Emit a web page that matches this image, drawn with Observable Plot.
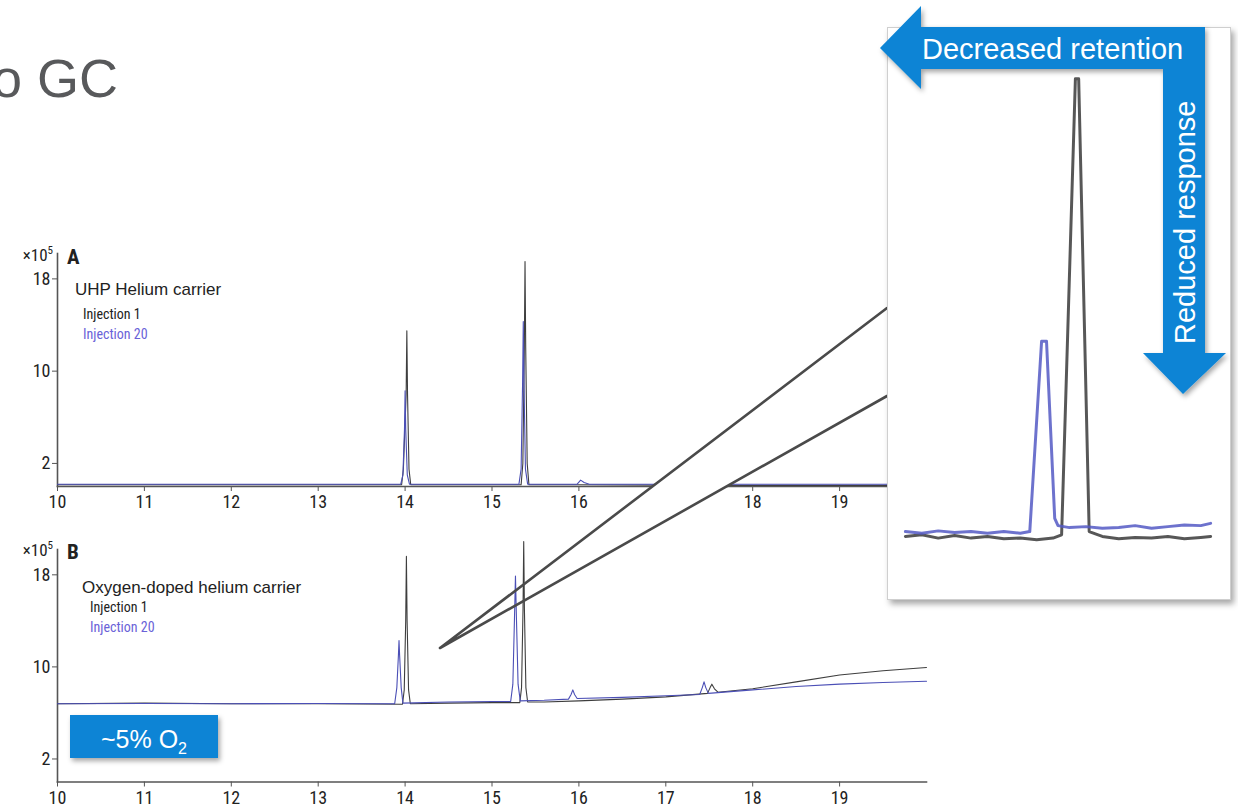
<!DOCTYPE html>
<html><head><meta charset="utf-8">
<script src="https://cdn.jsdelivr.net/npm/d3@7"></script>
<script src="https://cdn.jsdelivr.net/npm/@observablehq/plot@0.6"></script>
<style>
html,body{margin:0;padding:0;background:#fff;}
#stage{position:relative;width:1238px;height:810px;overflow:hidden;background:#fff;}
.layer{position:absolute;left:0;top:0;pointer-events:none;}
#inset{position:absolute;left:887px;top:27px;width:344px;height:573px;background:#fff;border:1px solid #cfcfcf;box-shadow:3px 4px 6px rgba(0,0,0,0.35);box-sizing:border-box;overflow:hidden;}
</style></head><body><div id="stage"></div>
<script>
// ---------- data ----------
const xTicks = [10, 11, 12, 13, 14, 15, 16, 17, 18, 19];
const yTicks = [2, 10, 18];
const panelLetters = ["A", "B"];
const carrierLabels = ["UHP Helium carrier", "Oxygen-doped helium carrier"];
const injectionLabels = ["Injection 1", "Injection 20"];
const pageTitle = "o GC";
const o2Label = "~5% O";
const o2Sub = "2";
const arrowLabels = ["Decreased retention", "Reduced response"];

// Panel A (UHP helium), retention time (min) and signal (x10^5)
const aInj1Time = [10, 12, 13.96, 13.98, 14.012, 14.02, 14.028, 14.045, 14.065, 15.0, 15.335, 15.355, 15.372, 15.38, 15.388, 15.405, 15.425, 16.0, 17, 18, 19, 20];
const aInj1Signal = [0.15, 0.15, 0.15, 1.5, 8, 13.5, 8, 1.5, 0.15, 0.15, 0.15, 2, 12, 19.5, 12, 2, 0.15, 0.15, 0.12, 0.1, 0.1, 0.1];
const aInj20Time = [10, 12, 13.2, 13.95, 13.975, 13.993, 14.0, 14.007, 14.025, 14.05, 14.3, 15.0, 15.31, 15.335, 15.352, 15.36, 15.368, 15.385, 15.41, 15.98, 16.02, 16.06, 16.12, 17, 18, 19, 20];
const aInj20Signal = [0.2, 0.2, 0.2, 0.2, 1, 5, 8.3, 5, 1, 0.2, 0.2, 0.2, 0.2, 1.5, 9, 14.3, 9, 1.5, 0.2, 0.2, 0.55, 0.35, 0.2, 0.2, 0.2, 0.2, 0.2];

// Panel B (oxygen-doped helium)
const bInj1Time = [10, 11, 12, 13, 13.97, 13.99, 14.007, 14.015, 14.023, 14.04, 14.06, 14.5, 15, 15.32, 15.34, 15.357, 15.365, 15.373, 15.39, 15.41, 15.6, 16, 16.5, 17, 17.48, 17.51, 17.53, 17.56, 17.6, 18, 18.5, 19, 19.5, 20];
const bInj1Signal = [6.8, 6.85, 6.8, 6.8, 6.75, 8, 14, 19.6, 14, 8, 6.8, 6.85, 6.9, 6.9, 8.2, 15, 20.9, 15, 8.2, 6.95, 6.95, 7.05, 7.2, 7.4, 7.7, 8.2, 8.5, 8.1, 7.8, 8.1, 8.7, 9.3, 9.66, 9.95];
const bInj20Time = [10, 11, 12, 13, 13.88, 13.905, 13.923, 13.93, 13.937, 13.955, 13.975, 14.5, 15, 15.215, 15.24, 15.258, 15.27, 15.282, 15.3, 15.325, 15.6, 15.88, 15.91, 15.93, 15.95, 15.98, 16.5, 17, 17.39, 17.42, 17.44, 17.46, 17.49, 18, 18.5, 19, 19.5, 20];
const bInj20Signal = [6.8, 6.82, 6.8, 6.82, 6.8, 8.2, 11, 12.3, 11, 8.2, 6.85, 6.95, 7.0, 7.0, 8.5, 14, 17.9, 14, 8.5, 7.05, 7.1, 7.2, 7.6, 8.0, 7.6, 7.25, 7.35, 7.5, 7.6, 8.2, 8.7, 8.2, 7.7, 8.0, 8.3, 8.5, 8.65, 8.75];

// Inset (zoom on the second peak pair of panel B)
const insetInj1Time = [14.85, 14.9, 14.95, 15.0, 15.05, 15.1, 15.15, 15.2, 15.25, 15.3, 15.326, 15.368, 15.378, 15.41, 15.45, 15.5, 15.55, 15.6, 15.65, 15.7, 15.75, 15.78];
const insetInj1Signal = [6.85, 6.9, 6.8, 6.88, 6.8, 6.85, 6.78, 6.8, 6.75, 6.8, 6.9, 20.8, 20.8, 7.0, 6.85, 6.78, 6.82, 6.8, 6.85, 6.78, 6.82, 6.85];
const insetInj20Time = [14.85, 14.9, 14.95, 15.0, 15.05, 15.1, 15.15, 15.2, 15.229, 15.265, 15.28, 15.305, 15.315, 15.35, 15.4, 15.45, 15.5, 15.55, 15.6, 15.65, 15.7, 15.75, 15.78];
const insetInj20Signal = [7.0, 6.95, 7.02, 6.97, 7.0, 6.95, 7.0, 6.95, 7.0, 12.8, 12.8, 7.4, 7.18, 7.12, 7.15, 7.1, 7.12, 7.18, 7.1, 7.15, 7.2, 7.18, 7.25];

// ---------- helpers ----------
const zip = (t, v) => t.map((d, i) => ({t: d, v: v[i]}));
const NARROW = '"Liberation Sans Narrow","Arial Narrow","Roboto Condensed","DejaVu Sans Condensed",sans-serif';
const SANS = '"Liberation Sans",Arial,sans-serif';
const COL1 = "#3e3e3e", COL2 = "#4b4fb6", AXIS = "#555", BLUE = "#0b84d5";
const stage = document.getElementById("stage");
const NS = "http://www.w3.org/2000/svg";

function panel(s1, s2, top, marginTop, marginBottom) {
  const svg = Plot.plot({
    width: 940, height: 290, marginLeft: 57, marginRight: 14, marginTop, marginBottom,
    x: {domain: [10, 20]}, y: {domain: [0, 20.2]},
    style: {background: "transparent", overflow: "visible", fontFamily: NARROW, fontSize: "18px", color: "#222"},
    marks: [
      Plot.frame({anchor: "left", stroke: AXIS, strokeWidth: 1.6}),
      Plot.frame({anchor: "bottom", stroke: AXIS, strokeWidth: 1.6}),
      Plot.axisY({ticks: yTicks, tickSize: 5, tickPadding: 2, label: null, stroke: AXIS}),
      Plot.axisX({ticks: xTicks, tickSize: 5, tickPadding: 4, label: null, stroke: AXIS}),
      Plot.line(s1, {x: "t", y: "v", stroke: COL1, strokeWidth: 1.1}),
      Plot.line(s2, {x: "t", y: "v", stroke: COL2, strokeWidth: 1.1})
    ]
  });
  svg.style.position = "absolute"; svg.style.left = "0px"; svg.style.top = top + "px";
  return svg;
}
function layer(html) {
  const s = document.createElementNS(NS, "svg");
  s.setAttribute("width", 1238); s.setAttribute("height", 810);
  s.setAttribute("class", "layer");
  s.innerHTML = html;
  return s;
}

// 1. panel A
stage.appendChild(panel(zip(aInj1Time, aInj1Signal), zip(aInj20Time, aInj20Signal), 230, 23, 34));
// 2. white wedge of the callout
stage.appendChild(layer(`<polygon points="440,648 887,308 887,396" fill="#fff"/>`));
// 3. panel B
stage.appendChild(panel(zip(bInj1Time, bInj1Signal), zip(bInj20Time, bInj20Signal), 525, 24, 33.5));
// 4. texts + wedge lines
const panelText = [
  {y0: 0, tx: 75, inj: 83, letter: panelLetters[0], title: carrierLabels[0]},
  {y0: 295, tx: 82, inj: 90, letter: panelLetters[1], title: carrierLabels[1]}
];
let txt = `<text x="-8" y="97" font-family='${SANS}' font-size="54" fill="#58595b">${pageTitle}</text>`;
panelText.forEach((p, i) => {
  const o = p.y0;
  txt += `<text x="53" y="${261 + o}" text-anchor="end" font-family='${NARROW}' font-size="17" fill="#222">×10<tspan font-size="11" dy="-7">5</tspan></text>`;
  txt += `<text x="67" y="${264 + o}" font-family='${NARROW}' font-weight="bold" font-size="21" fill="#222">${p.letter}</text>`;
  txt += `<text x="${p.tx}" y="${295 + o - (i ? -3 : 0)}" font-family='${SANS}' font-size="17" fill="#222">${p.title}</text>`;
  txt += `<text x="${p.inj}" y="${319 + o - (i ? 2 : 0)}" font-family='${NARROW}' font-size="14" fill="#222">${injectionLabels[0]}</text>`;
  txt += `<text x="${p.inj}" y="${339 + o - (i ? 2 : 0)}" font-family='${NARROW}' font-size="14" fill="#6a62d8">${injectionLabels[1]}</text>`;
});
txt += `<path d="M440,648L887,308M440,648L887,396" stroke="#4a4a4a" stroke-width="2.6" stroke-linecap="round" fill="none"/>`;
stage.appendChild(layer(txt));

// 5. inset
const inset = document.createElement("div");
inset.id = "inset";
stage.appendChild(inset);
const insetSvg = Plot.plot({
  width: 344, height: 573, marginLeft: 18, marginRight: 19, marginTop: 45, marginBottom: 0,
  x: {domain: [14.85, 15.78]}, y: {domain: [5, 21]}, axis: null,
  style: {background: "transparent", overflow: "visible"},
  marks: [
    Plot.line(zip(insetInj1Time, insetInj1Signal), {x: "t", y: "v", stroke: "#3a3a3a", strokeWidth: 3, strokeOpacity: 0.85}),
    Plot.line(zip(insetInj20Time, insetInj20Signal), {x: "t", y: "v", stroke: "#5459c4", strokeWidth: 3, strokeOpacity: 0.85})
  ]
});
insetSvg.style.position = "absolute"; insetSvg.style.left = "-1px"; insetSvg.style.top = "-1px";
insetSvg.style.filter = "blur(0.4px)";
inset.appendChild(insetSvg);

// 6. arrows and O2 badge
let ar = `<defs><filter id="sh" x="-20%" y="-20%" width="140%" height="140%"><feDropShadow dx="2" dy="3" stdDeviation="2.5" flood-color="#000" flood-opacity="0.35"/></filter></defs>`;
ar += `<path d="M880,48L921,6L921,27L1205,27L1205,353L1226,353L1183,394L1143,353L1163,353L1163,69L921,69L921,89Z" fill="${BLUE}" filter="url(#sh)"/>`;
ar += `<text x="922" y="59" font-family='${SANS}' font-size="29" fill="#fff">${arrowLabels[0]}</text>`;
ar += `<text transform="translate(1195,344) rotate(-90)" font-family='${SANS}' font-size="29" fill="#fff">${arrowLabels[1]}</text>`;
ar += `<rect x="70" y="715" width="148" height="43" fill="${BLUE}" filter="url(#sh)"/>`;
ar += `<text x="144" y="748" text-anchor="middle" font-family='${SANS}' font-size="25" fill="#fff">${o2Label}<tspan font-size="16" dy="6">${o2Sub}</tspan></text>`;
stage.appendChild(layer(ar));
</script></body></html>
